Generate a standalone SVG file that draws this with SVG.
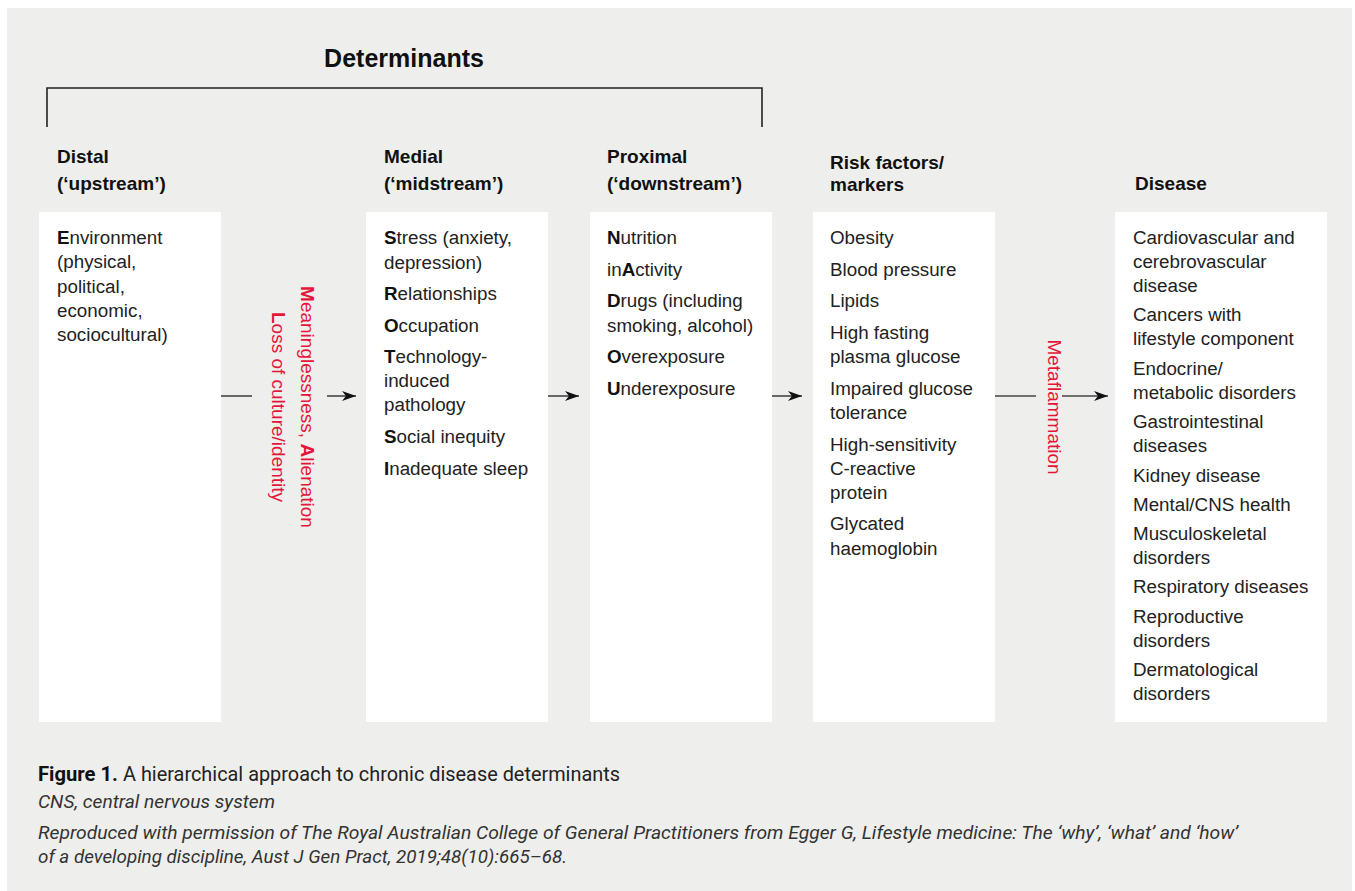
<svg xmlns="http://www.w3.org/2000/svg" width="1355" height="891" viewBox="0 0 1355 891">
  <defs>
    <style>
      .panel { fill: #eeeeec; }
      .box { fill: #ffffff; }
      .head { font-family: "Liberation Sans", Arial, sans-serif; font-weight: bold; font-size: 19px; fill: #111111; }
      .title { font-family: "Liberation Sans", Arial, sans-serif; font-weight: bold; font-size: 25px; fill: #111111; }
      .body { font-family: "Liberation Sans", Arial, sans-serif; font-size: 18.8px; fill: #222222; }
      .body tspan.k { font-weight: bold; fill: #111111; }
      .red { font-family: "Liberation Sans", Arial, sans-serif; font-size: 19px; fill: #e4153a; }
      .red tspan.k { font-weight: bold; }
      .cap { font-family: Roboto, "Liberation Sans", sans-serif; font-size: 20px; fill: #222222; }
      .capb { font-family: Roboto, "Liberation Sans", sans-serif; font-size: 20px; font-weight: bold; fill: #111111; }
      .capi { font-family: Roboto, "Liberation Sans", sans-serif; font-size: 19px; font-style: italic; fill: #333333; }
      .stem { stroke: #444444; stroke-width: 1.6; fill: none; }
      .bracket { stroke: #222222; stroke-width: 1.6; fill: none; }
    </style>
    <marker id="arrowhead" markerUnits="userSpaceOnUse" markerWidth="16" markerHeight="12" refX="14" refY="6" orient="auto">
      <path d="M0,1 L14,6 L0,11 L4,6 Z" fill="#111111"/>
    </marker>
  </defs>

  <!-- background panel -->
  <rect class="panel" x="7" y="8" width="1345" height="883"/>

  <!-- determinants bracket -->
  <g id="determinants">
    <text class="title" x="404" y="67" text-anchor="middle">Determinants</text>
    <path class="bracket" d="M47,127 V88 H762 V127"/>
  </g>

  <!-- column headings -->
  <g id="headings">
    <text class="head" x="57" y="163">Distal</text>
    <text class="head" x="57" y="190">(‘upstream’)</text>
    <text class="head" x="384" y="163">Medial</text>
    <text class="head" x="384" y="190">(‘midstream’)</text>
    <text class="head" x="607" y="163">Proximal</text>
    <text class="head" x="607" y="190">(‘downstream’)</text>
    <text class="head" x="830" y="169">Risk factors/</text>
    <text class="head" x="830" y="191">markers</text>
    <text class="head" x="1135" y="190">Disease</text>
  </g>

  <!-- distal determinants -->
  <g id="node-distal">
    <rect class="box" x="39" y="212" width="182" height="510"/>
    <text class="body">
      <tspan x="57" y="244"><tspan class="k">E</tspan>nvironment</tspan>
      <tspan x="57" y="268">(physical,</tspan>
      <tspan x="57" y="293">political,</tspan>
      <tspan x="57" y="317">economic,</tspan>
      <tspan x="57" y="341">sociocultural)</tspan>
    </text>
  </g>

  <!-- medial determinants -->
  <g id="node-medial">
    <rect class="box" x="366" y="212" width="182" height="510"/>
    <text class="body">
      <tspan x="384" y="244"><tspan class="k">S</tspan>tress (anxiety,</tspan>
      <tspan x="384" y="269">depression)</tspan>
      <tspan x="384" y="300"><tspan class="k">R</tspan>elationships</tspan>
      <tspan x="384" y="332"><tspan class="k">O</tspan>ccupation</tspan>
      <tspan x="384" y="363"><tspan class="k">T</tspan>echnology-</tspan>
      <tspan x="384" y="387">induced</tspan>
      <tspan x="384" y="411">pathology</tspan>
      <tspan x="384" y="443"><tspan class="k">S</tspan>ocial inequity</tspan>
      <tspan x="384" y="475"><tspan class="k">I</tspan>nadequate sleep</tspan>
    </text>
  </g>

  <!-- proximal determinants -->
  <g id="node-proximal">
    <rect class="box" x="590" y="212" width="182" height="510"/>
    <text class="body">
      <tspan x="607" y="244"><tspan class="k">N</tspan>utrition</tspan>
      <tspan x="607" y="276">in<tspan class="k">A</tspan>ctivity</tspan>
      <tspan x="607" y="307"><tspan class="k">D</tspan>rugs (including</tspan>
      <tspan x="607" y="332">smoking, alcohol)</tspan>
      <tspan x="607" y="363"><tspan class="k">O</tspan>verexposure</tspan>
      <tspan x="607" y="395"><tspan class="k">U</tspan>nderexposure</tspan>
    </text>
  </g>

  <!-- risk factors / markers -->
  <g id="node-risk">
    <rect class="box" x="813" y="212" width="182" height="510"/>
    <text class="body">
      <tspan x="830" y="244">Obesity</tspan>
      <tspan x="830" y="276">Blood pressure</tspan>
      <tspan x="830" y="307">Lipids</tspan>
      <tspan x="830" y="339">High fasting</tspan>
      <tspan x="830" y="363">plasma glucose</tspan>
      <tspan x="830" y="395">Impaired glucose</tspan>
      <tspan x="830" y="419">tolerance</tspan>
      <tspan x="830" y="451">High-sensitivity</tspan>
      <tspan x="830" y="475">C-reactive</tspan>
      <tspan x="830" y="499">protein</tspan>
      <tspan x="830" y="530">Glycated</tspan>
      <tspan x="830" y="555">haemoglobin</tspan>
    </text>
  </g>

  <!-- disease outcomes -->
  <g id="node-disease">
    <rect class="box" x="1115" y="212" width="212" height="510"/>
    <text class="body">
      <tspan x="1133" y="244">Cardiovascular and</tspan>
      <tspan x="1133" y="268">cerebrovascular</tspan>
      <tspan x="1133" y="292">disease</tspan>
      <tspan x="1133" y="321">Cancers with</tspan>
      <tspan x="1133" y="345">lifestyle component</tspan>
      <tspan x="1133" y="375">Endocrine/</tspan>
      <tspan x="1133" y="399">metabolic disorders</tspan>
      <tspan x="1133" y="428">Gastrointestinal</tspan>
      <tspan x="1133" y="452">diseases</tspan>
      <tspan x="1133" y="482">Kidney disease</tspan>
      <tspan x="1133" y="511">Mental/CNS health</tspan>
      <tspan x="1133" y="540">Musculoskeletal</tspan>
      <tspan x="1133" y="564">disorders</tspan>
      <tspan x="1133" y="593">Respiratory diseases</tspan>
      <tspan x="1133" y="623">Reproductive</tspan>
      <tspan x="1133" y="647">disorders</tspan>
      <tspan x="1133" y="676">Dermatological</tspan>
      <tspan x="1133" y="700">disorders</tspan>
    </text>
  </g>

  <!-- connectors between columns -->
  <g id="connectors">
    <line class="stem" x1="221" y1="396" x2="252" y2="396"/>
    <line class="stem" x1="327" y1="396" x2="356" y2="396" marker-end="url(#arrowhead)"/>
    <line class="stem" x1="548" y1="396" x2="579" y2="396" marker-end="url(#arrowhead)"/>
    <line class="stem" x1="772" y1="396" x2="802" y2="396" marker-end="url(#arrowhead)"/>
    <line class="stem" x1="995" y1="396" x2="1036" y2="396"/>
    <line class="stem" x1="1062" y1="396" x2="1108" y2="396" marker-end="url(#arrowhead)"/>
  </g>

  <!-- labels on connectors -->
  <g id="label-alienation">
    <text class="red" transform="translate(301,407) rotate(90)" text-anchor="middle"><tspan class="k">M</tspan>eaninglessness, <tspan class="k">A</tspan>lienation</text>
    <text class="red" transform="translate(272,407) rotate(90)" text-anchor="middle"><tspan class="k">L</tspan>oss of culture/identity</text>
  </g>
  <g id="label-metaflammation">
    <text class="red" transform="translate(1048,407) rotate(90)" text-anchor="middle">Metaflammation</text>
  </g>

  <!-- caption -->
  <g id="caption">
    <text class="capb" x="38" y="781" textLength="80" lengthAdjust="spacingAndGlyphs">Figure 1.</text>
    <text class="cap" x="123" y="781" textLength="497" lengthAdjust="spacingAndGlyphs">A hierarchical approach to chronic disease determinants</text>
    <text class="capi" x="38" y="808" textLength="237" lengthAdjust="spacingAndGlyphs">CNS, central nervous system</text>
    <text class="capi" x="38" y="839" textLength="1200" lengthAdjust="spacingAndGlyphs">Reproduced with permission of The Royal Australian College of General Practitioners from Egger G, Lifestyle medicine: The ‘why’, ‘what’ and ‘how’</text>
    <text class="capi" x="38" y="863" textLength="529" lengthAdjust="spacingAndGlyphs">of a developing discipline, Aust J Gen Pract, 2019;48(10):665–68.</text>
  </g>
</svg>
